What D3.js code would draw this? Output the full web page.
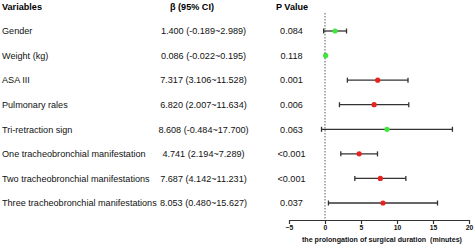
<!DOCTYPE html>
<html><head><meta charset="utf-8">
<script src="https://cdn.jsdelivr.net/npm/d3@7"></script>
<style>body{margin:0;background:#fff}svg{display:block}text{font-family:"Liberation Sans",Arial,sans-serif}</style>
</head><body>
<script>
const variables = ["Gender","Weight (kg)","ASA III","Pulmonary rales","Tri-retraction sign","One tracheobronchial manifestation","Two tracheobronchial manifestations","Three tracheobronchial manifestations"];
const beta = [1.400,0.086,7.317,6.820,8.608,4.741,7.687,8.053];
const lower = [-0.189,-0.022,3.106,2.007,-0.484,2.194,4.142,0.480];
const upper = [2.989,0.195,11.528,11.634,17.700,7.289,11.231,15.627];
const pValues = ["0.084","0.118","0.001","0.006","0.063","<0.001","<0.001","0.037"];
const xTicks = [-5,0,5,10,15,20];

const W=475,H=246;
const svg=d3.select("body").append("svg").attr("width",W).attr("height",H);
const x=d3.scaleLinear().domain([-5,20]).range([289,469]);
const y=d3.scalePoint().domain(d3.range(variables.length)).range([31,203]);
const fmt=v=>v.toFixed(3);
const fs=9.1;

// headers
svg.append("text").attr("x",2).attr("y",9.5).attr("font-size",fs).attr("font-weight","bold").text("Variables");
svg.append("text").attr("x",192).attr("y",9.5).attr("font-size",fs).attr("font-weight","bold").attr("text-anchor","middle").text("β  (95% CI)");
svg.append("text").attr("x",292).attr("y",9.5).attr("font-size",fs).attr("font-weight","bold").attr("text-anchor","middle").text("P Value");

const rows=svg.append("g").selectAll("g").data(variables).join("g");
rows.append("text").attr("x",2).attr("y",(d,i)=>y(i)+3.3).attr("font-size",fs).attr("fill","#111").text(d=>d);
rows.append("text").attr("x",203.5).attr("y",(d,i)=>y(i)+3.3).attr("font-size",fs).attr("fill","#111").attr("text-anchor","middle")
  .text((d,i)=>`${fmt(beta[i])} (${fmt(lower[i])}~${fmt(upper[i])})`);
rows.append("text").attr("x",291.5).attr("y",(d,i)=>y(i)+3.3).attr("font-size",fs).attr("fill","#111").attr("text-anchor","middle")
  .text((d,i)=>pValues[i]);

// reference line
svg.append("line").attr("x1",x(0)).attr("x2",x(0)).attr("y1",13).attr("y2",220)
  .attr("stroke","#333").attr("stroke-width",0.8).attr("stroke-dasharray","1.5,1.5");

// error bars
const eb=svg.append("g").selectAll("g").data(variables).join("g").attr("stroke","#333").attr("stroke-width",1.3);
eb.append("line").attr("x1",(d,i)=>x(lower[i])).attr("x2",(d,i)=>x(upper[i])).attr("y1",(d,i)=>y(i)).attr("y2",(d,i)=>y(i));
eb.append("line").attr("x1",(d,i)=>x(lower[i])).attr("x2",(d,i)=>x(lower[i])).attr("y1",(d,i)=>y(i)-2.5).attr("y2",(d,i)=>y(i)+2.5);
eb.append("line").attr("x1",(d,i)=>x(upper[i])).attr("x2",(d,i)=>x(upper[i])).attr("y1",(d,i)=>y(i)-2.5).attr("y2",(d,i)=>y(i)+2.5);
svg.append("g").selectAll("circle").data(variables).join("circle")
  .attr("cx",(d,i)=>x(beta[i])).attr("cy",(d,i)=>y(i)).attr("r",2.6)
  .attr("fill",(d,i)=>parseFloat(pValues[i].replace("<",""))<0.05?"#e8221e":"#3ee83a");

// axis
const ax=svg.append("g").attr("transform","translate(0,220)")
  .call(d3.axisBottom(x).tickValues(xTicks).tickSize(4).tickSizeOuter(0).tickPadding(1.5));
ax.select(".domain").attr("stroke","#333").attr("stroke-width",1.2);
ax.selectAll(".tick line").attr("stroke","#333").attr("stroke-width",1.2);
ax.selectAll(".tick text").attr("font-size",6.8).attr("font-weight","bold").attr("fill","#111").attr("font-family","Liberation Sans, Arial, sans-serif");
svg.append("text").attr("x",382).attr("y",241.5).attr("font-size",7.1).attr("font-weight","bold").attr("text-anchor","middle").attr("fill","#111")
  .attr("xml:space","preserve").text("the prolongation of surgical duration  (minutes)");
</script>
</body></html>
